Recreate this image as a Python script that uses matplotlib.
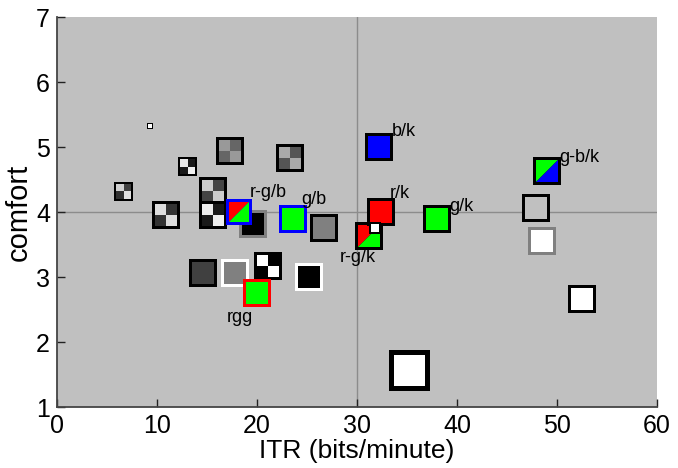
import matplotlib
matplotlib.use('Agg')
import matplotlib.pyplot as plt
from matplotlib.patches import Rectangle, Polygon
from matplotlib.transforms import ScaledTranslation

plt.rcParams['font.family'] = ['Liberation Sans', 'DejaVu Sans']

# data: ITR (bits/minute) and comfort rating for each condition
itr = [9.3, 6.7, 13.1, 17.3, 23.3, 15.6, 15.6, 10.9, 19.6, 18.2, 23.6, 26.7,
       14.6, 17.8, 21.1, 20.0, 25.2, 32.2, 31.2, 32.4, 31.8, 38.0, 49.0, 47.9,
       48.5, 52.5, 35.3]
comfort = [5.32, 4.32, 4.70, 4.95, 4.83, 4.32, 3.96, 3.96, 3.82, 4.01, 3.89, 3.75,
           3.07, 3.07, 3.18, 2.76, 3.01, 5.01, 3.64, 4.01, 3.76, 3.89, 4.63, 4.07,
           3.56, 2.67, 1.57]
labels = ['', '', '', '', '', '', '', '', '', 'r-g/b', 'g/b', '',
          '', '', '', 'rgg', '', 'b/k', 'r-g/k', 'r/k', '', 'g/k', 'g-b/k', '',
          '', '', '']

# marker look (outer size px, edge width px, edge colour, fill)
K, W, G = 'black', 'white', '#808080'
BG = '#c0c0c0'
styles = [
    (6, 1, K, ('solid', W)),
    (19, 2, K, ('checker', ['#d0d0d0', '#404040', '#303030', '#e0e0e0'])),
    (19, 2, K, ('checker', ['#e8e8e8', '#1a1a1a', '#1a1a1a', '#f0f0f0'])),
    (28, 3, K, ('checker', ['#999999', '#666666', '#666666', '#999999'])),
    (28, 3, K, ('checker', ['#aaaaaa', '#555555', '#555555', '#aaaaaa'])),
    (28, 3, K, ('checker', ['#cccccc', '#444444', '#444444', '#cccccc'])),
    (28, 3, K, ('checker', ['#eeeeee', '#1a1a1a', '#1a1a1a', '#eeeeee'])),
    (28, 3, K, ('checker', ['#dddddd', '#333333', '#333333', '#dddddd'])),
    (28, 3, G, ('solid', K)),
    (26, 3, 'blue', ('diag', 'red', '#00ff00')),
    (28, 3, 'blue', ('solid', '#00ff00')),
    (28, 3, K, ('solid', G)),
    (28, 3, K, ('solid', '#404040')),
    (28, 3, W, ('solid', G)),
    (28, 3, K, ('checker', [W, K, K, W])),
    (28, 3, 'red', ('solid', '#00ff00')),
    (28, 3, W, ('solid', K)),
    (28, 3, K, ('solid', 'blue')),
    (28, 3, K, ('diag', 'red', '#00ff00')),
    (28, 3, K, ('solid', 'red')),
    (12, 2, K, ('solid', W)),
    (28, 3, K, ('solid', '#00ff00')),
    (28, 3, K, ('diag', '#00ff00', 'blue')),
    (28, 3, K, ('solid', BG)),
    (28, 3, G, ('solid', W)),
    (28, 3, K, ('solid', W)),
    (41, 5, K, ('solid', W)),
]
# label offsets in pixels (dx, dy)
label_off = {'r-g/b': (11, 19), 'g/b': (8, 20), 'rgg': (-30, -25), 'b/k': (13, 15),
             'r-g/k': (-29, -22), 'r/k': (9, 18), 'g/k': (12, 13), 'g-b/k': (12, 14)}

fig = plt.figure(figsize=(6.78, 4.68), dpi=100)
ax = fig.add_axes([0.084, 0.130, 0.885, 0.833])
ax.set_facecolor(BG)
ax.set_xlim(0, 60)
ax.set_ylim(1, 7)
ax.axvline(30, color='#8c8c8c', lw=1, zorder=1)
ax.axhline(4, color='#8c8c8c', lw=1, zorder=1)


def draw_marker(x, y, size, ew, ec, fill, z):
    tr = fig.dpi_scale_trans + ScaledTranslation(x, y, ax.transData)
    s = size / 100.0
    h = s / 2
    ax.add_patch(Rectangle((-h, -h), s, s, facecolor=ec, edgecolor='none',
                           transform=tr, zorder=z))
    i = (size - 2 * ew) / 200.0
    kind = fill[0]
    if kind == 'solid':
        ax.add_patch(Rectangle((-i, -i), 2 * i, 2 * i, facecolor=fill[1],
                               edgecolor='none', transform=tr, zorder=z))
    elif kind == 'checker':
        tl, trc, bl, br = fill[1]
        for (x0, y0, c) in [(-i, 0, tl), (0, 0, trc), (-i, -i, bl), (0, -i, br)]:
            ax.add_patch(Rectangle((x0, y0), i, i, facecolor=c, edgecolor='none',
                                   transform=tr, zorder=z))
    elif kind == 'diag':
        ax.add_patch(Polygon([(-i, -i), (-i, i), (i, i)], closed=True, facecolor=fill[1],
                             edgecolor='none', transform=tr, zorder=z))
        ax.add_patch(Polygon([(-i, -i), (i, -i), (i, i)], closed=True, facecolor=fill[2],
                             edgecolor='none', transform=tr, zorder=z))


for n, (x, y, lab, st) in enumerate(zip(itr, comfort, labels, styles)):
    draw_marker(x, y, st[0], st[1], st[2], st[3], 3 + n * 0.01)
    if lab:
        dx, dy = label_off[lab]
        ax.annotate(lab, (x, y), xytext=(dx, dy), textcoords='offset pixels',
                    fontsize=13, ha='left', va='center', zorder=5)

ax.set_xticks(range(0, 61, 10))
ax.set_yticks(range(1, 8))
ax.tick_params(direction='in', length=6, width=1, labelsize=18, pad=5,
               top=False, right=False, color='#222222')
for sp in ['top', 'right']:
    ax.spines[sp].set_visible(False)
for sp in ['left', 'bottom']:
    ax.spines[sp].set_color('#444444')
    ax.spines[sp].set_linewidth(1.3)
ax.set_xlabel('ITR (bits/minute)', fontsize=19, labelpad=1)
ax.set_ylabel('comfort', fontsize=21, labelpad=2)

fig.savefig('out.png', dpi=100)
